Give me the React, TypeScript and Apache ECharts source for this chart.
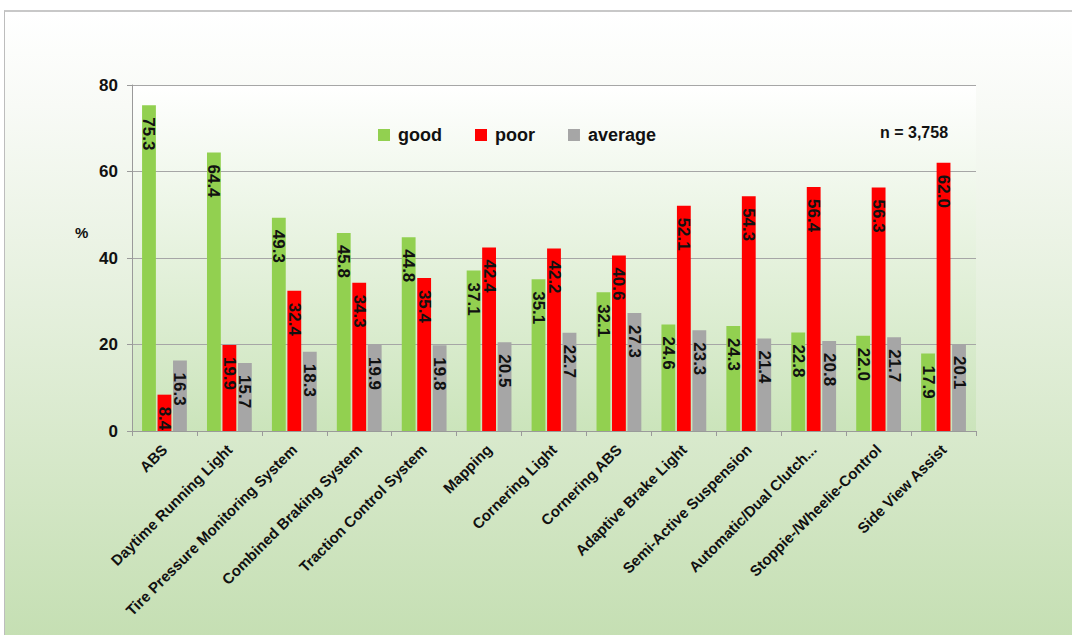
import React, { useEffect, useRef } from "react";
import * as echarts from "echarts";

const categories = [
  "ABS",
  "Daytime Running Light",
  "Tire Pressure Monitoring System",
  "Combined Braking System",
  "Traction Control System",
  "Mapping",
  "Cornering Light",
  "Cornering ABS",
  "Adaptive Brake Light",
  "Semi-Active Suspension",
  "Automatic/Dual Clutch...",
  "Stoppie-/Wheelie-Control",
  "Side View Assist",
];
const good = [75.3, 64.4, 49.3, 45.8, 44.8, 37.1, 35.1, 32.1, 24.6, 24.3, 22.8, 22.0, 17.9];
const poor = [8.4, 19.9, 32.4, 34.3, 35.4, 42.4, 42.2, 40.6, 52.1, 54.3, 56.4, 56.3, 62.0];
const average = [16.3, 15.7, 18.3, 19.9, 19.8, 20.5, 22.7, 27.3, 23.3, 21.4, 20.8, 21.7, 20.1];
const yTicks = { min: 0, max: 80, interval: 20 };

const FONT = "'Liberation Sans', Arial, sans-serif";

export default function App() {
  const ref = useRef<HTMLDivElement>(null);
  useEffect(() => {
    if (!ref.current) return;
    const chart = echarts.init(ref.current, null, { renderer: "svg" });
    const label = {
      show: true,
      position: "insideTop" as const,
      distance: 12,
      rotate: -90,
      align: "left",
      verticalAlign: "middle",
      fontFamily: FONT,
      fontWeight: "bold",
      fontSize: 17,
      color: "#111",
      formatter: (p: any) => Number(p.value).toFixed(1),
    };
    const mk = (name: string, data: number[], color: string) => ({
      name,
      type: "bar",
      data,
      barGap: "12%",
      barCategoryGap: "31%",
      itemStyle: { color },
      label,
    });
    chart.setOption({
      animation: false,
      backgroundColor: "transparent",
      textStyle: { fontFamily: FONT },
      grid: {
        left: 132,
        right: 96,
        top: 85,
        bottom: 204,
        show: true,
        borderWidth: 0,
        backgroundColor: new echarts.graphic.LinearGradient(0, 0, 0, 1, [
          { offset: 0, color: "#ffffff" },
          { offset: 1, color: "#cbe4bb" },
        ]),
      },
      legend: {
        left: 373,
        top: 121,
        itemWidth: 12,
        itemHeight: 12,
        itemGap: 33,
        icon: "rect",
        textStyle: {
          fontFamily: FONT,
          fontWeight: "bold",
          fontSize: 18,
          color: "#111",
          padding: [0, 0, 0, 3],
        },
        data: ["good", "poor", "average"],
      },
      graphic: [
        {
          type: "text",
          left: 880,
          top: 124,
          style: { text: "n = 3,758", font: `bold 16px ${FONT}`, fill: "#111" },
        },
        {
          type: "text",
          left: 75,
          top: 225,
          style: { text: "%", font: `bold 15px ${FONT}`, fill: "#111" },
        },
      ],
      xAxis: {
        type: "category",
        data: categories,
        axisLine: { lineStyle: { color: "#9a9a9a", width: 1 } },
        axisTick: { show: true, length: 5, lineStyle: { color: "#9a9a9a" } },
        axisLabel: {
          rotate: 45,
          interval: 0,
          margin: 16,
          fontFamily: FONT,
          fontWeight: "bold",
          fontSize: 15,
          color: "#111",
        },
      },
      yAxis: {
        type: "value",
        min: yTicks.min,
        max: yTicks.max,
        interval: yTicks.interval,
        axisLine: { show: true, lineStyle: { color: "#9a9a9a" } },
        axisTick: { show: true, length: 5, lineStyle: { color: "#9a9a9a" } },
        splitLine: { lineStyle: { color: "#a6a6a6", width: 1 } },
        axisLabel: {
          margin: 14,
          fontFamily: FONT,
          fontWeight: "bold",
          fontSize: 17,
          color: "#111",
        },
      },
      series: [
        mk("good", good, "#92d050"),
        mk("poor", poor, "#ff0000"),
        mk("average", average, "#a6a6a6"),
      ],
    });
    return () => chart.dispose();
  }, []);

  return (
    <div style={{ position: "absolute", left: 0, top: 0, width: 1072, height: 635, overflow: "hidden" }}>
      <div
        style={{
          position: "absolute",
          left: 4,
          top: 10,
          width: 1068,
          height: 625,
          borderLeft: "1px solid #bdbdbd",
          borderTop: "2px solid #c8c8c8",
          background: "linear-gradient(to bottom, #ffffff 0%, #f8faf6 15%, #c5dfb3 100%)",
        }}
      />
      <div ref={ref} style={{ position: "absolute", left: 0, top: 0, width: 1072, height: 635 }} />
    </div>
  );
}
